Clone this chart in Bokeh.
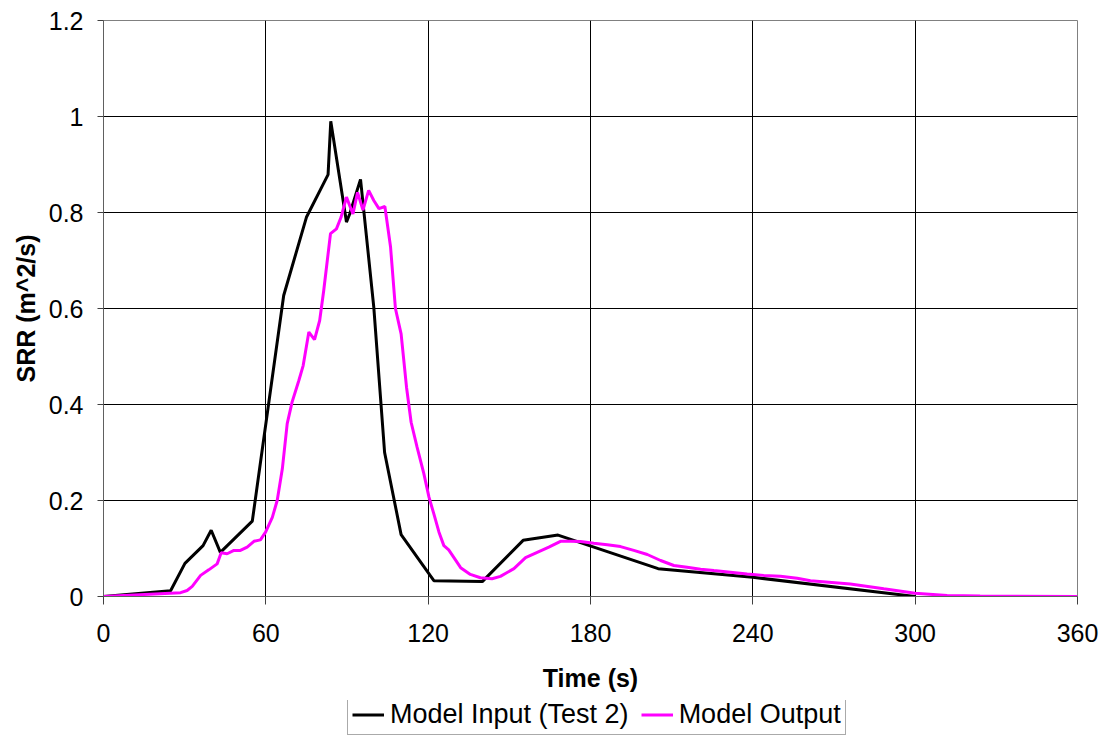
from bokeh.plotting import figure
from bokeh.models import Range1d, FixedTicker, Legend, LegendItem
from bokeh.layouts import column
from bokeh.embed import file_html
from bokeh.resources import INLINE

# ---- data ----
input_t = [0, 24.8, 30.1, 36.8, 39.8, 43.2, 55.0, 66.6, 75.0, 83.0, 84.0, 89.8, 91.0,
           95.0, 99.9, 103.9, 110.0, 122.1, 140.0, 155.1, 168.0, 205.0, 240.0, 300.0]
input_v = [0, 0.012, 0.069, 0.106, 0.138, 0.092, 0.157, 0.627, 0.79, 0.879, 0.99, 0.78, 0.797,
           0.869, 0.603, 0.30, 0.129, 0.033, 0.031, 0.117, 0.128, 0.058, 0.040, 0.0]

output_t = [0, 28.5, 30.9, 32.8, 35.9, 38.9, 42.0, 43.5, 45.7, 48.2, 50.6, 53.1, 55.6, 58.0,
            59.9, 62.4, 64.2, 66.1, 67.9, 69.7, 72.2, 73.8, 75.9, 78.0, 79.9, 81.4, 83.9,
            86.1, 87.8, 89.8, 92.2, 93.9, 95.9, 98.0, 99.9, 101.8, 104.0, 106.1, 107.9,
            110.0, 112.0, 113.7, 115.9, 118.4, 120.3, 122.1, 124.0, 125.8, 127.6, 132.0,
            135.6, 139.3, 143.6, 146.7, 151.7, 156.0, 160.3, 164.6, 168.9, 172.6, 176.3,
            181.2, 186.2, 191.1, 196.0, 201.0, 205.9, 210.8, 215.7, 220.7, 225.6, 231.7,
            237.9, 244.0, 250.2, 256.4, 261.3, 276.0, 288.4, 300.0, 311.8, 324.0, 360.0]
output_v = [0, 0.008, 0.0125, 0.021, 0.044, 0.0555, 0.068, 0.091, 0.089, 0.096, 0.096, 0.103,
            0.115, 0.118, 0.134, 0.165, 0.20, 0.266, 0.36, 0.405, 0.45, 0.481, 0.551, 0.535,
            0.575, 0.6375, 0.756, 0.766, 0.79, 0.832, 0.797, 0.842, 0.805, 0.846, 0.825,
            0.808, 0.8125, 0.728, 0.60, 0.547, 0.436, 0.363, 0.311, 0.256, 0.207, 0.172,
            0.134, 0.106, 0.097, 0.060, 0.046, 0.039, 0.037, 0.042, 0.058, 0.081, 0.092,
            0.103, 0.115, 0.115, 0.1146, 0.111, 0.108, 0.104, 0.096, 0.0875, 0.075, 0.0646,
            0.061, 0.057, 0.054, 0.0506, 0.047, 0.044, 0.042, 0.038, 0.033, 0.026, 0.016,
            0.007, 0.002, 0.001, 0.0]

x_ticks = [0, 60, 120, 180, 240, 300, 360]
y_ticks = [0, 0.2, 0.4, 0.6, 0.8, 1, 1.2]
y_labels = ["0", "0.2", "0.4", "0.6", "0.8", "1", "1.2"]

series_names = ["Model Input (Test 2)", "Model Output"]
series_colors = ["black", "#FF00FF"]

FONT = "Liberation Sans"

p = figure(width=1100, height=700, output_backend="svg", toolbar_location=None,
           x_range=Range1d(0, 360), y_range=Range1d(0, 1.2),
           min_border_left=103, min_border_right=23, min_border_top=20, min_border_bottom=104)
p.background_fill_color = "white"
p.border_fill_color = "white"
p.outline_line_color = "#808080"
p.outline_line_width = 1

for ax in (p.xaxis[0], p.yaxis[0]):
    ax.major_label_text_font = FONT
    ax.major_label_text_font_size = "25px"
    ax.major_label_text_color = "black"
    ax.axis_label_text_font = FONT
    ax.axis_label_text_font_size = "25px"
    ax.axis_label_text_font_style = "bold"
    ax.axis_label_text_color = "black"
    ax.axis_line_color = "#606060"
    ax.major_tick_line_color = "#404040"
    ax.minor_tick_line_color = None
    ax.major_tick_in = 0

p.xaxis.ticker = FixedTicker(ticks=x_ticks)
p.yaxis.ticker = FixedTicker(ticks=y_ticks)
p.yaxis.major_label_overrides = {t: l for t, l in zip(y_ticks, y_labels)}
p.xaxis.major_tick_out = 8
p.yaxis.major_tick_out = 6
p.xaxis.major_label_standoff = 19
p.yaxis.major_label_standoff = 14
p.xaxis.axis_label = "Time (s)"
p.yaxis.axis_label = "SRR (m^2/s)"
p.xaxis.axis_label_standoff = 19
p.yaxis.axis_label_standoff = 6

p.xgrid.ticker = FixedTicker(ticks=x_ticks)
p.ygrid.ticker = FixedTicker(ticks=y_ticks)
p.grid.grid_line_color = "#000000"
p.grid.grid_line_width = 1

p.line(input_t, input_v, line_color=series_colors[0], line_width=3)
p.line(output_t, output_v, line_color=series_colors[1], line_width=3)

# ---- legend strip below the chart (its key lines lie outside this strip's view) ----
leg = figure(width=1100, height=38, output_backend="svg", toolbar_location=None,
             x_range=Range1d(1000, 1001), y_range=Range1d(1000, 1001),
             x_axis_type=None, y_axis_type=None,
             min_border_left=0, min_border_right=0, min_border_top=0, min_border_bottom=0)
leg.grid.visible = False
leg.outline_line_color = None
leg.background_fill_color = "white"
leg.border_fill_color = "white"
k_in = leg.line(input_t, input_v, line_color=series_colors[0], line_width=3)
k_out = leg.line(output_t, output_v, line_color=series_colors[1], line_width=3)

legend = Legend(items=[LegendItem(label=series_names[0], renderers=[k_in]),
                       LegendItem(label=series_names[1], renderers=[k_out])],
                orientation="horizontal", location=(244, 3),
                label_text_font=FONT, label_text_font_size="27px", label_text_color="black",
                glyph_width=32, glyph_height=25, label_standoff=6, spacing=12,
                padding=4, margin=0, border_line_color="#555555", border_line_width=1,
                background_fill_color="white", background_fill_alpha=1.0)
leg.add_layout(legend, "center")

layout = column(p, leg, spacing=0)
open("out.html", "w").write(file_html(layout, INLINE))
